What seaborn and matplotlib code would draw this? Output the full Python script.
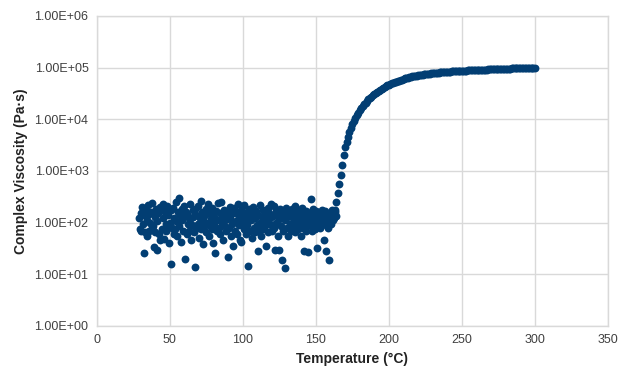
import numpy as np
import pandas as pd
import seaborn as sns
import matplotlib.pyplot as plt
from matplotlib.ticker import FuncFormatter, NullLocator

# noisy low-temperature region (melt, before cure)
noise_temp = [
    29.0, 29.5, 30.0, 30.5, 31.0, 31.5, 32.0, 32.5, 33.0, 33.5,
    34.0, 34.5, 35.0, 35.5, 36.0, 36.5, 37.0, 37.5, 38.0, 38.5,
    39.0, 39.5, 40.0, 40.5, 41.0, 41.5, 42.0, 42.5, 43.0, 43.5,
    44.0, 44.5, 45.0, 45.5, 46.0, 46.5, 47.0, 47.5, 48.0, 48.5,
    49.0, 49.5, 50.0, 50.5, 51.0, 51.5, 52.0, 52.5, 53.0, 53.5,
    54.0, 54.5, 55.0, 55.5, 56.0, 56.5, 57.0, 57.5, 58.0, 58.5,
    59.0, 59.5, 60.0, 60.5, 61.0, 61.5, 62.0, 62.5, 63.0, 63.5,
    64.0, 64.5, 65.0, 65.5, 66.0, 66.5, 67.0, 67.5, 68.0, 68.5,
    69.0, 69.5, 70.0, 70.5, 71.0, 71.5, 72.0, 72.5, 73.0, 73.5,
    74.0, 74.5, 75.0, 75.5, 76.0, 76.5, 77.0, 77.5, 78.0, 78.5,
    79.0, 79.5, 80.0, 80.5, 81.0, 81.5, 82.0, 82.5, 83.0, 83.5,
    84.0, 84.5, 85.0, 85.5, 86.0, 86.5, 87.0, 87.5, 88.0, 88.5,
    89.0, 89.5, 90.0, 90.5, 91.0, 91.5, 92.0, 92.5, 93.0, 93.5,
    94.0, 94.5, 95.0, 95.5, 96.0, 96.5, 97.0, 97.5, 98.0, 98.5,
    99.0, 99.5, 100.0, 100.5, 101.0, 101.5, 102.0, 102.5, 103.0, 103.5,
    104.0, 104.5, 105.0, 105.5, 106.0, 106.5, 107.0, 107.5, 108.0, 108.5,
    109.0, 109.5, 110.0, 110.5, 111.0, 111.5, 112.0, 112.5, 113.0, 113.5,
    114.0, 114.5, 115.0, 115.5, 116.0, 116.5, 117.0, 117.5, 118.0, 118.5,
    119.0, 119.5, 120.0, 120.5, 121.0, 121.5, 122.0, 122.5, 123.0, 123.5,
    124.0, 124.5, 125.0, 125.5, 126.0, 126.5, 127.0, 127.5, 128.0, 128.5,
    129.0, 129.5, 130.0, 130.5, 131.0, 131.5, 132.0, 132.5, 133.0, 133.5,
    134.0, 134.5, 135.0, 135.5, 136.0, 136.5, 137.0, 137.5, 138.0, 138.5,
    139.0, 139.5, 140.0, 140.5, 141.0, 141.5, 142.0, 142.5, 143.0, 143.5,
    144.0, 144.5, 145.0, 145.5, 146.0, 146.5, 147.0, 147.5, 148.0, 148.5,
    149.0, 149.5, 150.0, 150.5, 151.0, 151.5, 152.0, 152.5, 153.0, 153.5,
    154.0, 154.5, 155.0, 155.5, 156.0, 156.5, 157.0, 157.5, 158.0, 158.5,
    159.0, 159.5, 160.0, 160.5, 161.0, 161.5, 162.0, 162.5, 163.0, 163.5,
]
noise_visc = [
    120, 75, 150, 70, 200, 95, 26, 140, 65, 175,
    110, 55, 215, 145, 70, 100, 160, 80, 235, 85,
    34, 130, 65, 180, 105, 30, 150, 60, 45, 200,
    180, 75, 125, 225, 48, 160, 95, 70, 210, 85,
    140, 40, 100, 175, 16, 80, 190, 60, 120, 75,
    250, 105, 55, 160, 295, 85, 140, 42, 110, 185,
    70, 130, 210, 20, 160, 60, 145, 95, 70, 225,
    115, 45, 90, 175, 130, 65, 14, 185, 140, 80,
    205, 95, 50, 125, 260, 75, 160, 110, 38, 85,
    140, 185, 65, 100, 230, 90, 55, 155, 115, 75,
    190, 40, 130, 90, 26, 165, 70, 110, 240, 80,
    150, 60, 255, 100, 130, 45, 175, 85, 140, 70,
    115, 22, 165, 80, 200, 120, 55, 95, 150, 35,
    190, 70, 105, 155, 60, 230, 90, 130, 45, 175,
    43, 100, 150, 75, 215, 115, 60, 160, 90, 14.5,
    130, 180, 70, 110, 50, 150, 200, 80, 125, 65,
    165, 90, 28, 140, 70, 100, 220, 55, 130, 85,
    175, 75, 145, 110, 35, 95, 190, 65, 155, 120,
    90, 230, 70, 135, 210, 80, 30, 165, 100, 145,
    55, 115, 29, 180, 85, 140, 19, 70, 155, 13,
    110, 195, 80, 130, 55, 165, 95, 145, 70, 185,
    120, 85, 160, 65, 205, 105, 135, 75, 175, 90,
    150, 55, 115, 190, 80, 135, 28, 100, 165, 70,
    120, 27, 155, 90, 135, 284, 70, 110, 180, 90,
    145, 75, 170, 120, 32, 95, 155, 80, 135, 105,
    175, 90, 150, 46, 120, 165, 28, 100, 140, 80,
    19, 125, 155, 95, 175, 110, 145, 120, 160, 135,
]

# cure rise and plateau
curve_temp = [
    162, 163, 164, 165, 166, 167, 168, 169, 170, 171,
    172, 173, 174, 175, 176, 177, 178, 179, 180, 181,
    182, 183, 184, 185, 186, 187, 188, 189, 190, 191,
    192, 193, 194, 195, 196, 197, 198, 199, 200, 201,
    202, 203, 204, 205, 206, 207, 208, 209, 210, 211,
    212, 213, 214, 215, 216, 217, 218, 219, 220, 221,
    222, 223, 224, 225, 226, 227, 228, 229, 230, 231,
    232, 233, 234, 235, 236, 237, 238, 239, 240, 241,
    242, 243, 244, 245, 246, 247, 248, 249, 250, 251,
    252, 253, 254, 255, 256, 257, 258, 259, 260, 261,
    262, 263, 264, 265, 266, 267, 268, 269, 270, 271,
    272, 273, 274, 275, 276, 277, 278, 279, 280, 281,
    282, 283, 284, 285, 286, 287, 288, 289, 290, 291,
    292, 293, 294, 295, 296, 297, 298, 299, 300,
]
curve_visc = [
    126, 178, 251, 380, 562, 851, 1320, 2000, 2880, 3630,
    4570, 5620, 6760, 7940, 9330, 10700, 12000, 13200, 14800, 16200,
    17800, 19500, 20900, 22900, 24500, 26000, 27500, 29200, 30900, 32400,
    33900, 35500, 37200, 39000, 40700, 42200, 43700, 45200, 46800, 48400,
    50100, 51300, 52500, 53700, 55000, 56200, 57500, 58900, 60300, 61700,
    63100, 63800, 64600, 66100, 67600, 68400, 69200, 70000, 70800, 71600,
    72400, 73300, 74100, 75000, 75900, 76300, 76700, 77200, 77600, 78500,
    79400, 79900, 80400, 80800, 81300, 81700, 82200, 82700, 83200, 83600,
    84100, 84600, 85100, 85300, 85500, 85800, 86100, 86400, 86700, 86900,
    87100, 87600, 88100, 88600, 89100, 89300, 89500, 89800, 90200, 90500,
    90800, 91000, 91200, 91500, 91800, 92000, 92300, 92600, 92900, 93100,
    93300, 93500, 93800, 94100, 94400, 94800, 95100, 95300, 95500, 95700,
    95900, 96200, 96600, 96800, 97000, 97300, 97700, 97800, 97900, 98100,
    98400, 98600, 98900, 99100, 99300, 99400, 99500, 99800, 100000,
]

y_ticks = [1, 10, 100, 1000, 10000, 100000, 1000000]
x_ticks = [0, 50, 100, 150, 200, 250, 300, 350]

df = pd.DataFrame({
    "Temperature": noise_temp + curve_temp,
    "Viscosity": noise_visc + curve_visc,
})

sns.set_theme(style="whitegrid")
plt.rcParams["font.family"] = ["Liberation Sans", "DejaVu Sans"]

fig = plt.figure(figsize=(6.21, 3.72), dpi=100)
ax = fig.add_axes([0.156, 0.124, 0.823, 0.833])

sns.scatterplot(
    data=df, x="Temperature", y="Viscosity", ax=ax,
    color="#023e73", s=32, linewidth=0, alpha=1.0, zorder=3
)

ax.set_yscale("log")
ax.set_yticks(y_ticks)
ax.yaxis.set_minor_locator(NullLocator())
ax.yaxis.set_major_formatter(FuncFormatter(lambda v, p: f"{v:.2E}"))
ax.set_ylim(1, 1e6)
ax.set_xticks(x_ticks)
ax.set_xlim(0, 350)

ax.grid(True, color="#d9d9d9", linewidth=1.0)
for sp in ax.spines.values():
    sp.set_visible(True)
    sp.set_color("#d9d9d9")
    sp.set_linewidth(1.0)
ax.tick_params(axis="both", length=0, labelsize=9, colors="#404040", pad=6)

ax.set_xlabel("Temperature (°C)", fontsize=10, fontweight="bold", color="#222222", labelpad=4)
ax.set_ylabel("Complex Viscosity (Pa·s)", fontsize=10, fontweight="bold", color="#222222", labelpad=5)

fig.savefig("out.png", dpi=100)
